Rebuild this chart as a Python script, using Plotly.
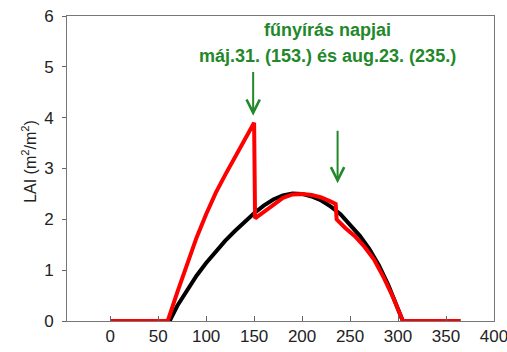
import plotly.graph_objects as go

# Data (day of year, LAI)
black_day = [0, 62, 70, 80, 90, 100, 110, 120, 130, 140, 150, 160, 170, 180, 190, 200,
             210, 220, 230, 240, 250, 260, 270, 280, 290, 300, 305, 365]
black_lai = [0, 0, 0.3, 0.6, 0.89, 1.14, 1.37, 1.58, 1.77, 1.95, 2.12, 2.27, 2.39, 2.47, 2.51, 2.5,
             2.45, 2.37, 2.25, 2.1, 1.9, 1.68, 1.42, 1.1, 0.7, 0.25, 0, 0]

red_day = [0, 60, 70, 80, 90, 100, 110, 120, 130, 140, 150, 151, 160, 170, 180, 190, 200,
           210, 220, 230, 235, 236, 245, 255, 265, 275, 285, 295, 305, 365]
red_lai = [0, 0, 0.57, 1.12, 1.64, 2.1, 2.52, 2.88, 3.22, 3.56, 3.9, 2.02, 2.15, 2.3, 2.42, 2.49, 2.5,
           2.48, 2.43, 2.35, 2.3, 2.0, 1.83, 1.67, 1.46, 1.21, 0.86, 0.46, 0, 0]

mow_days = [149, 237]
arrow_tip = [4.04, 2.71]
arrow_tail = [4.93, 3.77]

x_ticks = [0, 50, 100, 150, 200, 250, 300, 350, 400]
y_ticks = [0, 1, 2, 3, 4, 5, 6]

GREEN = "#22882a"
FONT = "Liberation Sans, Arial, sans-serif"

fig = go.Figure()
fig.add_trace(go.Scatter(x=black_day, y=black_lai, mode="lines",
                         line=dict(color="black", width=4), hoverinfo="skip"))
fig.add_trace(go.Scatter(x=red_day, y=red_lai, mode="lines",
                         line=dict(color="#ff0000", width=4), hoverinfo="skip"))

for d, tip, tail in zip(mow_days, arrow_tip, arrow_tail):
    fig.add_annotation(x=d, y=tip, ax=d, ay=tail, xref="x", yref="y", axref="x", ayref="y",
                       showarrow=True, arrowhead=5, arrowsize=1.3, arrowwidth=2,
                       arrowcolor=GREEN, text="")

fig.add_annotation(x=226, y=5.72, xref="x", yref="y", showarrow=False,
                   text="<b>fűnyírás napjai</b>", font=dict(family=FONT, size=18, color=GREEN))
fig.add_annotation(x=226, y=5.22, xref="x", yref="y", showarrow=False,
                   text="<b>máj.31. (153.) és aug.23. (235.)</b>",
                   font=dict(family=FONT, size=18, color=GREEN))

# y-axis title
fig.add_annotation(x=-0.089, y=0.525, xref="paper", yref="paper", showarrow=False,
                   textangle=-90, xanchor="center", yanchor="middle",
                   text="LAI (m<sup>2</sup>/m<sup>2</sup>)",
                   font=dict(family=FONT, size=16, color="#222222"))

fig.update_layout(
    width=507, height=352,
    margin=dict(l=67, r=13, t=16, b=31),
    paper_bgcolor="white", plot_bgcolor="white",
    showlegend=False,
    font=dict(family=FONT, size=17, color="#222222"),
)
fig.update_xaxes(range=[-45, 400], tickvals=x_ticks, ticks="inside", ticklen=5,
                 tickcolor="#666666", showgrid=False, zeroline=False,
                 ticklabeloverflow="allow", automargin=False,
                 showline=True, linecolor="#777777", linewidth=1, mirror=True)
fig.update_yaxes(range=[0, 6], tickvals=y_ticks, ticks="outside", ticklen=4,
                 ticklabelstandoff=5,
                 tickcolor="#666666", showgrid=False, zeroline=False, automargin=False,
                 showline=True, linecolor="#777777", linewidth=1, mirror=True)

fig.write_html("out.html")
